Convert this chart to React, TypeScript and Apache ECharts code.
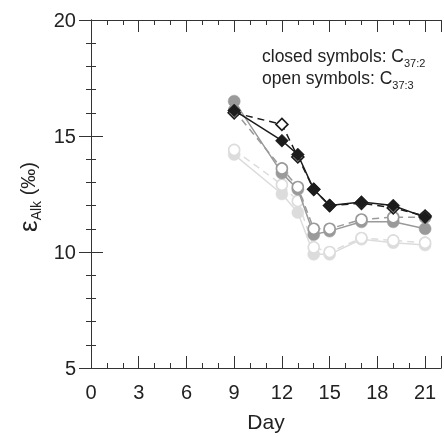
import React, { useEffect, useRef } from 'react';
import * as echarts from 'echarts';

const days = [9, 12, 13, 14, 15, 17, 19, 21];
const darkClosed = [16.1, 14.8, 14.2, 12.7, 12.0, 12.15, 12.0, 11.5];
const darkOpen = [16.0, 15.5, 14.1, 12.7, 12.0, 12.1, 11.9, 11.55];
const midClosed = [16.5, 13.4, 12.7, 10.75, 10.9, 11.3, 11.3, 11.0];
const midOpen = [16.1, 13.6, 12.8, 11.0, 11.0, 11.4, 11.5, 11.5];
const lightClosed = [14.2, 12.5, 11.7, 9.9, 9.9, 10.55, 10.4, 10.3];
const lightOpen = [14.4, 12.9, 12.2, 10.2, 10.0, 10.6, 10.5, 10.4];

const xMin = 0;
const xMax = 22;
const yMin = 5;
const yMax = 20;

const FONT = 'Liberation Sans, Arial, sans-serif';
const DARK = '#1c1c1c';
const MID = '#9a9a9a';
const LIGHT = '#dcdcdc';
const AXIS = '#333333';

function mk(name: string, vals: number[], color: string, open: boolean, symbol: string, size: number, z: number) {
  return {
    type: 'line',
    name,
    xAxisIndex: 0,
    yAxisIndex: 0,
    data: days.map((d, i) => [d, vals[i]]),
    symbol,
    symbolSize: size,
    showAllSymbol: true,
    z,
    lineStyle: { color, width: 1.5, type: open ? [7, 5] : 'solid' },
    itemStyle: { color: open ? '#ffffff' : color, borderColor: color, borderWidth: open ? 1.6 : 0.5 },
    emphasis: { disabled: true },
  };
}

export default function App() {
  const ref = useRef<HTMLDivElement>(null);
  useEffect(() => {
    const chart = echarts.init(ref.current!, null, { renderer: 'svg' });
    const axisLine = { show: true, lineStyle: { color: AXIS, width: 1 } };
    const xBase = { type: 'value', min: xMin, max: xMax, splitLine: { show: false } };
    const yBase = { type: 'value', min: yMin, max: yMax, interval: 5, splitLine: { show: false } };
    const sub = { fontSize: 11, lineHeight: 11, verticalAlign: 'bottom', fontFamily: FONT, fill: '#222' };
    const main = { fontSize: 17.5, lineHeight: 24, fontFamily: FONT, fill: '#222' };
    const option: any = {
      animation: false,
      grid: { left: 91, right: 1, top: 20, bottom: 63, containLabel: false },
      xAxis: [
        {
          ...xBase,
          position: 'bottom',
          interval: 3,
          axisLine,
          axisTick: { show: true, inside: true, length: 12, lineStyle: { color: AXIS } },
          axisLabel: {
            show: true,
            fontSize: 20,
            fontFamily: FONT,
            color: '#222',
            margin: 14,
            formatter: (v: number) => (v > 21 ? '' : String(v)),
          },
          name: 'Day',
          nameLocation: 'middle',
          nameGap: 43,
          nameMoveOverlap: false,
          nameTextStyle: { fontSize: 21, fontFamily: FONT, color: '#222' },
        },
        {
          ...xBase,
          position: 'bottom',
          interval: 1,
          axisLine,
          axisTick: { show: true, inside: true, length: 5, lineStyle: { color: AXIS } },
          axisLabel: { show: false },
        },
        {
          ...xBase,
          position: 'top',
          interval: 3,
          axisLine,
          axisTick: { show: true, inside: true, length: 12, lineStyle: { color: AXIS } },
          axisLabel: { show: false },
        },
        {
          ...xBase,
          position: 'top',
          interval: 1,
          axisLine,
          axisTick: { show: true, inside: true, length: 5, lineStyle: { color: AXIS } },
          axisLabel: { show: false },
        },
      ],
      yAxis: [
        {
          ...yBase,
          position: 'left',
          axisLine,
          axisTick: { show: true, inside: true, length: 12, lineStyle: { color: AXIS } },
          minorTick: { show: true, splitNumber: 5, length: 5, lineStyle: { color: AXIS } },
          axisLabel: { show: true, fontSize: 20, fontFamily: FONT, color: '#222', margin: 15 },
        },
        {
          ...yBase,
          position: 'right',
          axisLine,
          axisTick: { show: true, inside: true, length: 12, lineStyle: { color: AXIS } },
          minorTick: { show: true, splitNumber: 5, length: 5, lineStyle: { color: AXIS } },
          axisLabel: { show: false },
        },
      ],
      graphic: [
        {
          type: 'text',
          x: 28,
          y: 197,
          rotation: Math.PI / 2,
          style: {
            text: '{e|ε}{s|Alk}{p| (‰)}',
            align: 'center',
            verticalAlign: 'middle',
            fill: '#222',
            rich: {
              e: { fontSize: 26, lineHeight: 30, fontFamily: FONT, fill: '#222' },
              s: { fontSize: 14, lineHeight: 14, verticalAlign: 'bottom', fontFamily: FONT, fill: '#222' },
              p: { fontSize: 20, lineHeight: 30, fontFamily: FONT, fill: '#222' },
            },
          },
        },
        {
          type: 'text',
          left: 262,
          top: 47,
          style: { text: '{m|closed symbols: C}{s|37:2}', fill: '#222', rich: { m: main, s: sub } },
        },
        {
          type: 'text',
          left: 262,
          top: 69,
          style: { text: '{m|open symbols: C}{s|37:3}', fill: '#222', rich: { m: main, s: sub } },
        },
      ],
      series: [
        mk('lightClosed', lightClosed, LIGHT, false, 'circle', 12, 2),
        mk('lightOpen', lightOpen, LIGHT, true, 'circle', 11, 3),
        mk('midClosed', midClosed, MID, false, 'circle', 12, 4),
        mk('midOpen', midOpen, MID, true, 'circle', 11, 5),
        mk('darkOpen', darkOpen, DARK, true, 'diamond', 12, 6),
        mk('darkClosed', darkClosed, DARK, false, 'diamond', 13, 7),
      ],
    };
    chart.setOption(option);
    return () => chart.dispose();
  }, []);
  return <div ref={ref} style={{ position: 'fixed', left: 0, top: 0, width: 444, height: 437 }} />;
}
